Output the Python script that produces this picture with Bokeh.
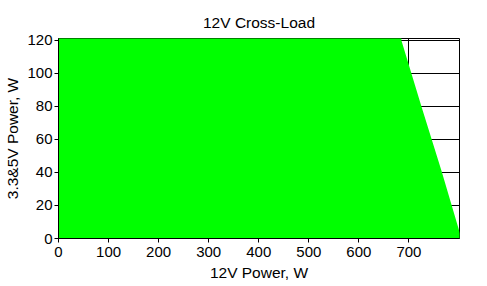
from bokeh.plotting import figure
from bokeh.models import Range1d, FixedTicker
from bokeh.embed import file_html
from bokeh.resources import INLINE

# Boundary of the green (OK) region
p335_levels = [0, 41, 80, 120]        # 3.3&5V power, W
max_12v = [805, 765, 725, 685]         # max 12V power at that level, W

x_ticks = [0, 100, 200, 300, 400, 500, 600, 700]
y_ticks = [0, 20, 40, 60, 80, 100, 120]
X_END = 801
Y_END = 121.2

FONT = "Liberation Sans"

p = figure(width=487, height=286, output_backend="svg", toolbar_location=None,
           x_range=Range1d(0, X_END), y_range=Range1d(0, Y_END),
           min_border_left=58, min_border_right=28, min_border_top=38,
           min_border_bottom=48, title="12V Cross-Load")

# green region polygon
xs = [0] + [max_12v[0]] + max_12v + [max_12v[-1], 0]
ys = [0] + [0] + p335_levels + [Y_END + 5, Y_END + 5]
p.patch(xs, ys, fill_color="#00FF00", line_color=None)

p.title.align = "center"
p.title.text_font = FONT
p.title.text_font_size = "15.5px"
p.title.text_font_style = "normal"
p.title.text_color = "black"
p.title.standoff = 16

for ax in (p.xaxis[0], p.yaxis[0]):
    ax.major_label_text_font = FONT
    ax.major_label_text_font_size = "15px"
    ax.major_label_text_color = "black"
    ax.axis_label_text_font = FONT
    ax.axis_label_text_font_size = "15.5px"
    ax.axis_label_text_font_style = "normal"
    ax.axis_label_text_color = "black"
    ax.axis_line_color = "black"
    ax.major_tick_line_color = "black"
    ax.major_tick_in = 0
    ax.major_tick_out = 4
    ax.minor_tick_line_color = None

p.xaxis.axis_label = "12V Power, W"
p.yaxis.axis_label = "3.3&5V Power, W"
p.xaxis.ticker = FixedTicker(ticks=x_ticks)
p.yaxis.ticker = FixedTicker(ticks=y_ticks)
p.xaxis.major_label_standoff = 4
p.xaxis.axis_label_standoff = 4
p.yaxis.major_label_standoff = 2
p.yaxis.axis_label_standoff = 3

p.xgrid.ticker = FixedTicker(ticks=x_ticks)
p.ygrid.ticker = FixedTicker(ticks=y_ticks)
p.grid.grid_line_color = "black"
p.grid.grid_line_width = 1
p.grid.grid_line_alpha = 1

p.outline_line_color = "black"
p.outline_line_width = 1
p.background_fill_color = "white"
p.border_fill_color = "white"

open("out.html", "w").write(file_html(p, INLINE))
